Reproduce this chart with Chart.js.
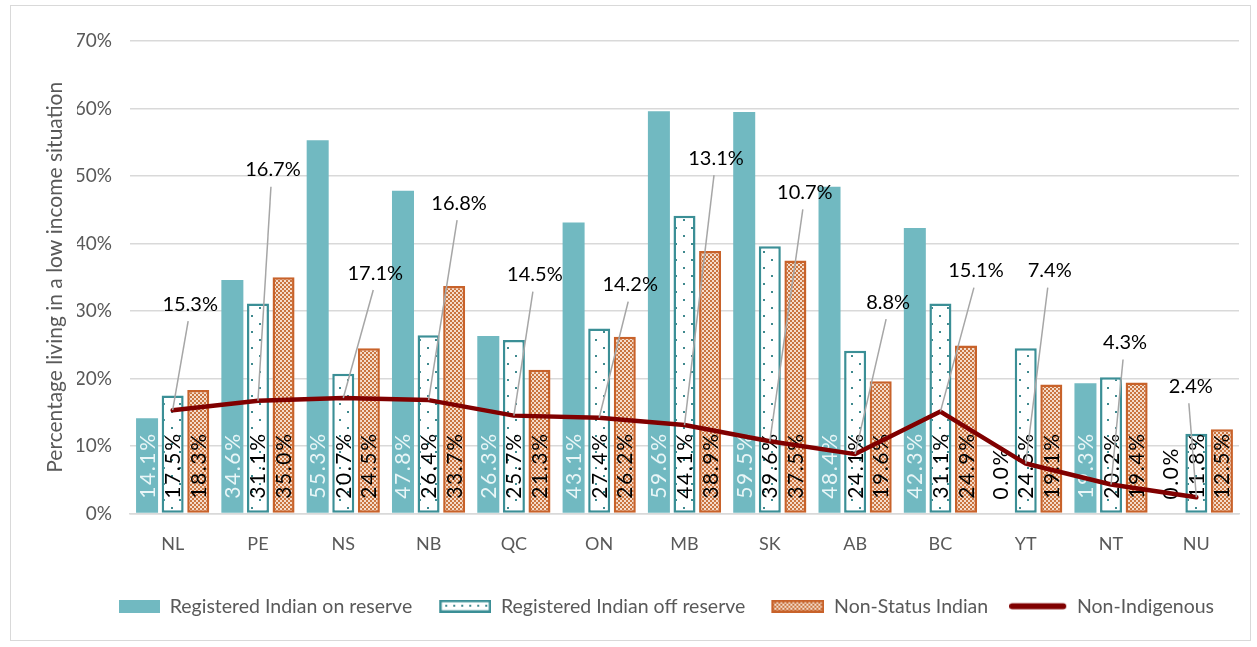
<!DOCTYPE html>
<html>
<head>
<meta charset="utf-8">
<script src="https://cdn.jsdelivr.net/npm/chart.js@4/dist/chart.umd.min.js"></script>
<style>
  html, body { margin: 0; padding: 0; background: #ffffff; }
  #wrap { width: 1257px; height: 647px; position: relative; }
</style>
</head>
<body>
<div id="wrap"><canvas id="c" width="1257" height="647"></canvas></div>
<script>
// ---- data ----
const categories = ['NL','PE','NS','NB','QC','ON','MB','SK','AB','BC','YT','NT','NU'];
const onReserve   = [14.1, 34.6, 55.3, 47.8, 26.3, 43.1, 59.6, 59.5, 48.4, 42.3, 0.0, 19.3, 0.0];
const offReserve  = [17.5, 31.1, 20.7, 26.4, 25.7, 27.4, 44.1, 39.6, 24.1, 31.1, 24.5, 20.2, 11.8];
const nonStatus   = [18.3, 35.0, 24.5, 33.7, 21.3, 26.2, 38.9, 37.5, 19.6, 24.9, 19.1, 19.4, 12.5];
const nonIndigenous = [15.3, 16.7, 17.1, 16.8, 14.5, 14.2, 13.1, 10.7, 8.8, 15.1, 7.4, 4.3, 2.4];
const seriesNames = ['Registered Indian on reserve','Registered Indian off reserve','Non-Status Indian','Non-Indigenous'];
const yTicks = [0, 10, 20, 30, 40, 50, 60, 70];

// ---- layout of the line's data labels (pixel offsets from each point) ----
const lineLabelDx = [17.5, 15, 32, 30.5, 21, 31, 31.5, 35, 33, 35.5, 24, 14, -5.5];
const lineLabelDy = [-106, -231, -125, -197, -141, -133, -267, -249, -152, -141, -193, -142, -111];

const FONT = 'Lato, "Open Sans", sans-serif';
const TEXT = '#595959';
const TEAL = '#71b9c1';
const TEAL_DARK = '#3b8f96';
const ORANGE = '#c8622a';
const LINE_RED = '#800000';

function makeDotPattern() {
  const c = document.createElement('canvas');
  c.width = 16; c.height = 16;
  const x = c.getContext('2d');
  x.fillStyle = '#ffffff'; x.fillRect(0, 0, 16, 16);
  x.fillStyle = '#3f898e';
  x.fillRect(3, 3, 2, 2);
  x.fillRect(11, 11, 2, 2);
  return c;
}
function makeCheckPattern() {
  const c = document.createElement('canvas');
  c.width = 4; c.height = 4;
  const x = c.getContext('2d');
  x.fillStyle = '#c9743f'; x.fillRect(0, 0, 4, 4);
  x.fillStyle = '#f5dccb';
  x.fillRect(0, 0, 2, 2);
  x.fillRect(2, 2, 2, 2);
  return c;
}
const ctx0 = document.getElementById('c').getContext('2d');
const dotPattern = ctx0.createPattern(makeDotPattern(), 'repeat');
const checkPattern = ctx0.createPattern(makeCheckPattern(), 'repeat');

// legend icons: all share one slot width, icon drawn right-aligned in the slot
const SLOT = 58;
function legendIcon(kind) {
  const c = document.createElement('canvas');
  c.width = SLOT; c.height = 13;
  const x = c.getContext('2d');
  if (kind === 0) {
    x.fillStyle = TEAL; x.fillRect(SLOT - 41, 0, 41, 13);
  } else if (kind === 1) {
    const w = 52, x0 = SLOT - w;
    x.fillStyle = '#ffffff'; x.fillRect(x0, 0, w, 13);
    x.fillStyle = '#3f898e';
    for (let k = x0 + 6; k < SLOT - 4; k += 8) x.fillRect(k, 5, 2, 2);
    x.strokeStyle = TEAL_DARK; x.lineWidth = 2.5; x.strokeRect(x0 + 1.25, 1.25, w - 2.5, 10.5);
  } else if (kind === 2) {
    const w = 53, x0 = SLOT - w;
    x.fillStyle = x.createPattern(makeCheckPattern(), 'repeat'); x.fillRect(x0, 0, w, 13);
    x.strokeStyle = ORANGE; x.lineWidth = 2.5; x.strokeRect(x0 + 1.25, 1.25, w - 2.5, 10.5);
  } else {
    x.strokeStyle = LINE_RED; x.lineWidth = 6; x.lineCap = 'round';
    x.beginPath(); x.moveTo(SLOT - 55, 6.5); x.lineTo(SLOT - 4, 6.5); x.stroke();
  }
  return c;
}
const legendIcons = [legendIcon(0), legendIcon(1), legendIcon(2), legendIcon(3)];

const borderPlugin = {
  id: 'frame',
  afterDraw(chart) {
    const c = chart.ctx;
    c.save();
    c.strokeStyle = '#d9d9d9'; c.lineWidth = 1;
    c.strokeRect(10.5, 5.5, 1240, 635);
    c.restore();
  }
};

const barLabelPlugin = {
  id: 'barLabels',
  afterDatasetDraw(chart, args) {
    const i = args.index;
    if (i > 2) return;
    const c = chart.ctx;
    const ds = chart.data.datasets[i];
    c.save();
    c.font = '21px ' + FONT;
    try { c.letterSpacing = '1.6px'; } catch (e) {}
    c.textAlign = 'left';
    c.textBaseline = 'alphabetic';
    args.meta.data.forEach((el, j) => {
      const v = ds.data[j];
      c.save();
      c.translate(el.x, el.base - 14);
      c.rotate(-Math.PI / 2);
      c.fillStyle = (i === 0 && v > 0) ? '#e9f6f7' : '#000000';
      c.fillText(v.toFixed(1) + '%', 0, 7.5);
      c.restore();
    });
    c.restore();
  }
};

const lineLabelPlugin = {
  id: 'lineLabels',
  afterDatasetsDraw(chart) {
    const meta = chart.getDatasetMeta(3);
    if (!meta || meta.hidden) return;
    const c = chart.ctx;
    const ds = chart.data.datasets[3];
    c.save();
    meta.data.forEach((pt, j) => {
      const lx = pt.x + lineLabelDx[j];
      const ly = pt.y + lineLabelDy[j];
      c.strokeStyle = '#a6a6a6'; c.lineWidth = 1.5;
      c.beginPath(); c.moveTo(lx - 2, ly + 17); c.lineTo(pt.x, pt.y); c.stroke();
      c.font = '20px ' + FONT;
      c.fillStyle = '#000000';
      c.textAlign = 'center'; c.textBaseline = 'middle';
      c.fillText(ds.data[j].toFixed(1) + '%', lx, ly);
    });
    c.restore();
  }
};

new Chart(document.getElementById('c'), {
  type: 'bar',
  data: {
    labels: categories,
    datasets: [
      { label: seriesNames[0], data: onReserve, backgroundColor: TEAL, borderWidth: 0,
        categoryPercentage: 0.9, barPercentage: 0.86 },
      { label: seriesNames[1], data: offReserve, backgroundColor: dotPattern, borderColor: TEAL_DARK,
        borderWidth: 2.5, borderSkipped: false, categoryPercentage: 0.9, barPercentage: 0.86 },
      { label: seriesNames[2], data: nonStatus, backgroundColor: checkPattern, borderColor: ORANGE,
        borderWidth: 2.5, borderSkipped: false, categoryPercentage: 0.9, barPercentage: 0.86 },
      { type: 'line', label: seriesNames[3], data: nonIndigenous, borderColor: LINE_RED,
        backgroundColor: LINE_RED, borderWidth: 4.5, pointRadius: 0, tension: 0, fill: false,
        borderCapStyle: 'round', borderJoinStyle: 'round', order: -1 }
    ]
  },
  options: {
    responsive: false,
    animation: false,
    layout: { padding: { left: 77, right: 18, top: 41, bottom: 21 } },
    plugins: {
      tooltip: { enabled: false },
      legend: {
        position: 'bottom',
        labels: {
          usePointStyle: true,
          pointStyleWidth: SLOT,
          padding: 21,
          color: TEXT,
          font: { family: FONT, size: 19.5 },
          generateLabels(chart) {
            return chart.data.datasets.map((ds, i) => ({
              text: ds.label,
              pointStyle: legendIcons[i],
              fillStyle: 'transparent',
              strokeStyle: 'transparent',
              lineWidth: 0,
              fontColor: TEXT,
              hidden: !chart.isDatasetVisible(i),
              datasetIndex: i
            }));
          }
        }
      }
    },
    scales: {
      x: {
        grid: { display: false, drawTicks: false },
        border: { color: '#d9d9d9', width: 1.5 },
        ticks: { color: TEXT, font: { family: FONT, size: 18 }, padding: 20 },
        afterFit(scale) { scale.height = 62; }
      },
      y: {
        min: 0, max: 70,
        afterBuildTicks(scale) { scale.ticks = yTicks.map(v => ({ value: v })); },
        grid: { color: '#d9d9d9', lineWidth: 1.5, drawTicks: false },
        border: { display: false },
        ticks: { color: TEXT, font: { family: FONT, size: 19 }, padding: 18,
                 callback: v => v + '%' },
        title: { display: true, text: 'Percentage living in a low income situation',
                 color: TEXT, font: { family: FONT, size: 21 }, padding: { top: -34.6, bottom: 0 } },
        afterFit(scale) { scale.width = 53; }
      }
    }
  },
  plugins: [borderPlugin, barLabelPlugin, lineLabelPlugin]
});
</script>
</body>
</html>
